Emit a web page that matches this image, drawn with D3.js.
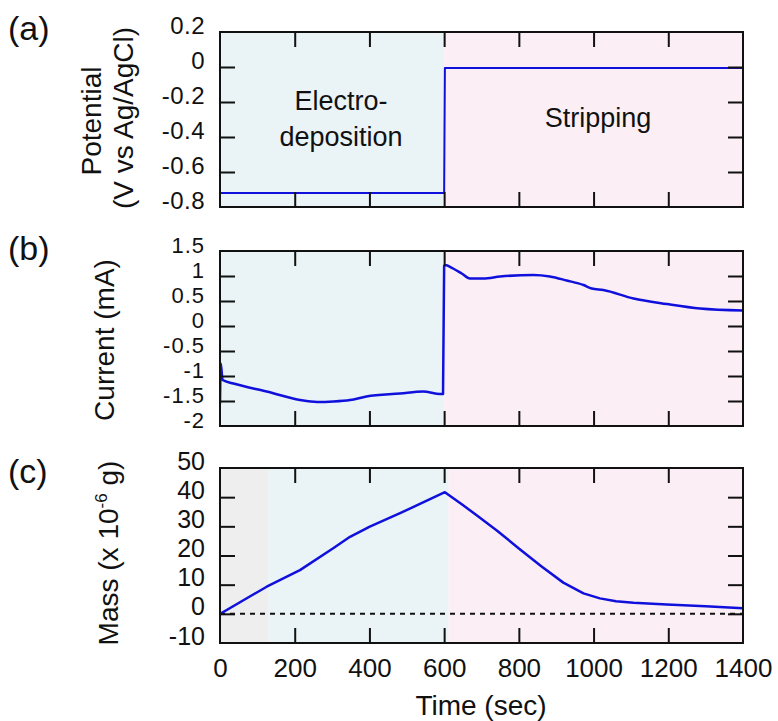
<!DOCTYPE html>
<html>
<head>
<meta charset="utf-8">
<script src="https://cdn.jsdelivr.net/npm/d3@7"></script>
<style>
  body { margin: 0; background: #fff; }
  text { font-family: "Liberation Sans", Arial, sans-serif; fill: #111; }
</style>
</head>
<body>
<div id="chart-area"></div>
<script>
// ---- data ----
let timeTicks = [0, 200, 400, 600, 800, 1000, 1200, 1400];

let potentialTicks = [0.2, 0, -0.2, -0.4, -0.6, -0.8];
let potentialTime  = [0, 600, 602, 1400];
let potentialValue = [-0.72, -0.72, -0.005, -0.005];

let currentTicks = [1.5, 1, 0.5, 0, -0.5, -1, -1.5, -2];
let currentTime  = [0, 2, 7, 36, 125, 214, 260, 303, 348, 392, 482, 544, 589, 597, 600, 602, 624, 647, 669, 705, 750, 839, 883, 928, 973, 995, 1026, 1107, 1196, 1285, 1400];
let currentValue = [-1.55, -0.75, -1.08, -1.15, -1.31, -1.48, -1.52, -1.51, -1.48, -1.41, -1.35, -1.31, -1.36, -1.36, 1.2, 1.22, 1.15, 1.05, 0.95, 0.95, 0.99, 1.02, 0.99, 0.91, 0.82, 0.75, 0.72, 0.55, 0.44, 0.35, 0.31];

let massTicks = [50, 40, 30, 20, 10, 0, -10];
let massTime  = [0, 125, 214, 303, 348, 401, 482, 602, 650, 687, 741, 800, 860, 919, 973, 1017, 1060, 1107, 1196, 1300, 1400];
let massValue = [0, 9.3, 15, 22.5, 26.4, 29.9, 34.5, 41.7, 37.3, 33.8, 28.6, 22.4, 16.3, 10.7, 7.0, 5.3, 4.3, 3.8, 3.2, 2.6, 1.9];

// phase boundaries (sec)
let phasesAB = [0, 600, 1400];
let phasesC  = [0, 130, 612, 1400];

// ---- layout ----
let W = 778, H = 721;
let left = 220, right = 743, boxH = 175;
let tickLen = 15;

let svg = d3.select("#chart-area").append("svg")
    .attr("width", W)
    .attr("height", H);

let x = d3.scaleLinear().domain([0, 1400]).range([left, right]);
let innerX = timeTicks.slice(1, -1);

function drawPanel(cfg) {
    let y = d3.scaleLinear().domain(cfg.domain).range([cfg.top + boxH, cfg.top]);
    let g = svg.append("g");

    // background phases
    for (let i = 0; i < cfg.phases.length - 1; i++) {
        g.append("rect")
            .attr("x", x(cfg.phases[i]))
            .attr("y", cfg.top)
            .attr("width", x(cfg.phases[i + 1]) - x(cfg.phases[i]))
            .attr("height", boxH)
            .attr("fill", cfg.colors[i]);
    }

    let clipId = "clip-" + cfg.name;
    svg.append("clipPath").attr("id", clipId)
      .append("rect")
        .attr("x", left).attr("y", cfg.top)
        .attr("width", right - left).attr("height", boxH);

    if (cfg.zeroLine) {
        g.append("line")
            .attr("x1", left).attr("x2", right)
            .attr("y1", y(0)).attr("y2", y(0))
            .attr("stroke", "#111")
            .attr("stroke-width", 2)
            .attr("stroke-dasharray", "5,5");
    }

    let line = d3.line()
        .x(function(d){ return x(d[0]); })
        .y(function(d){ return y(d[1]); })
        .curve(cfg.curve);

    g.append("path")
        .datum(d3.zip(cfg.t, cfg.v))
        .attr("clip-path", "url(#" + clipId + ")")
        .attr("fill", "none")
        .attr("stroke", "#1010dd")
        .attr("stroke-width", cfg.lw)
        .attr("stroke-linejoin", "round")
        .attr("d", line);

    // inward ticks on all four sides
    let innerY = cfg.ticks.slice(1, -1);
    g.append("g")
        .attr("transform", "translate(0," + (cfg.top + boxH) + ")")
        .call(d3.axisBottom(x).tickValues(innerX).tickSize(-tickLen).tickFormat(""));
    g.append("g")
        .attr("transform", "translate(0," + cfg.top + ")")
        .call(d3.axisTop(x).tickValues(innerX).tickSize(-tickLen).tickFormat(""));
    g.append("g")
        .attr("transform", "translate(" + left + ",0)")
        .call(d3.axisLeft(y).tickValues(innerY).tickSize(-tickLen).tickFormat(""));
    g.append("g")
        .attr("transform", "translate(" + right + ",0)")
        .call(d3.axisRight(y).tickValues(innerY).tickSize(-tickLen).tickFormat(""));
    g.selectAll(".domain").remove();
    g.selectAll(".tick line").attr("stroke", "#111").attr("stroke-width", 2);

    // frame
    g.append("rect")
        .attr("x", left).attr("y", cfg.top)
        .attr("width", right - left).attr("height", boxH)
        .attr("fill", "none")
        .attr("stroke", "#111")
        .attr("stroke-width", 2);

    // y tick labels
    let yl = g.append("g")
        .attr("transform", "translate(" + left + ",0)")
        .call(d3.axisLeft(y).tickValues(cfg.ticks).tickSize(0).tickPadding(15)
            .tickFormat(function(d){ return String(d); }));
    yl.select(".domain").remove();
    yl.selectAll("text")
        .attr("dy", 1)
        .style("font-size", cfg.labelSize + "px")
        .style("letter-spacing", cfg.labelSpacing + "px")
        .style("font-family", "'Liberation Sans', Arial, sans-serif")
        .attr("fill", "#111");

    // panel letter
    svg.append("text")
        .attr("x", 8).attr("y", cfg.top + cfg.letterDy)
        .style("font-size", "34px")
        .text(cfg.letter);

    return {g: g, y: y};
}

// (a) potential
drawPanel({
    name: "a", top: 32, domain: [-0.8, 0.2], ticks: potentialTicks,
    phases: phasesAB, colors: ["#eaf3f6", "#fbeff5"],
    t: potentialTime, v: potentialValue, curve: d3.curveLinear, lw: 2,
    labelSize: 24, labelSpacing: 0.5,
    letter: "(a)", letterDy: 8
});
// (b) current
drawPanel({
    name: "b", top: 251, domain: [-2, 1.5], ticks: currentTicks,
    phases: phasesAB, colors: ["#eaf3f6", "#fbeff5"],
    t: currentTime, v: currentValue, curve: d3.curveMonotoneX, lw: 2.5,
    labelSize: 22, labelSpacing: 1,
    letter: "(b)", letterDy: 9
});
// (c) mass
drawPanel({
    name: "c", top: 468, domain: [-10, 50], ticks: massTicks,
    phases: phasesC, colors: ["#eeeeee", "#eaf3f6", "#fbeff5"],
    t: massTime, v: massValue, curve: d3.curveLinear, lw: 2.5, zeroLine: true,
    labelSize: 25, labelSpacing: 0,
    letter: "(c)", letterDy: 15
});

// x tick labels (bottom panel only)
let xl = svg.append("g")
    .attr("transform", "translate(0," + (468 + boxH) + ")")
    .call(d3.axisBottom(x).tickValues(timeTicks).tickSize(0).tickFormat(d3.format("d")));
xl.select(".domain").remove();
xl.selectAll("text")
    .attr("y", 34).attr("dy", 0)
    .style("font-size", "26px")
    .style("font-family", "'Liberation Sans', Arial, sans-serif")
    .attr("fill", "#111");

svg.append("text")
    .attr("x", 481).attr("y", 715)
    .attr("text-anchor", "middle")
    .style("font-size", "28px")
    .text("Time (sec)");

// y titles
function yTitle(cx, cy) {
    return svg.append("text")
        .attr("transform", "translate(" + cx + "," + cy + ") rotate(-90)")
        .attr("text-anchor", "middle")
        .style("font-size", "28px");
}
yTitle(101, 121).text("Potential");
yTitle(133, 118).text("(V vs Ag/AgCl)");
yTitle(114, 340).text("Current (mA)");
let mt = yTitle(118, 553);
mt.append("tspan").text("Mass (x 10");
mt.append("tspan").attr("dy", -11).style("font-size", "17px").text("-6");
mt.append("tspan").attr("dy", 11).text(" g)");

// phase labels
svg.append("text").attr("x", 341).attr("y", 110).attr("text-anchor", "middle")
    .style("font-size", "27px").text("Electro-");
svg.append("text").attr("x", 341).attr("y", 146).attr("text-anchor", "middle")
    .style("font-size", "27px").text("deposition");
svg.append("text").attr("x", 598).attr("y", 127).attr("text-anchor", "middle")
    .style("font-size", "27px").text("Stripping");
</script>
</body>
</html>
